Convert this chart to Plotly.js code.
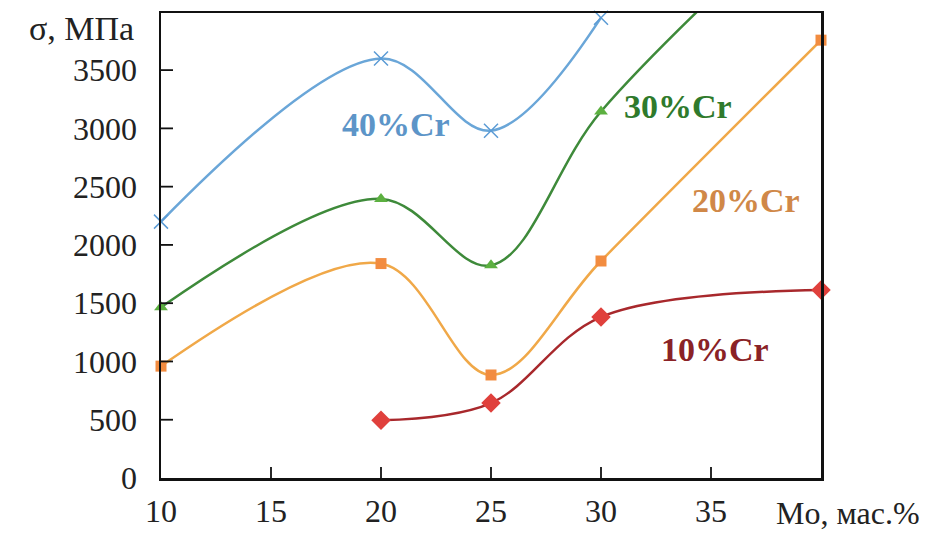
<!DOCTYPE html>
<html>
<head>
<meta charset="utf-8">
<script src="https://cdn.plot.ly/plotly-3.0.1.min.js"></script>
<style>html,body{margin:0;padding:0;background:#fff;}#chart{width:935px;height:534px;}</style>
</head>
<body>
<div id="chart"></div>
<script>
// Mo content, wt.%
const x40 = [10, 20, 25, 30];
const y40 = [2200, 3600, 2980, 3950];
const x30 = [10, 20, 25, 30, 40];
const y30 = [1465, 2395, 1825, 3145, 5000];
const x20 = [10, 20, 25, 30, 40];
const y20 = [960, 1840, 884, 1862, 3757];
const x10 = [20, 25, 30, 40];
const y10 = [495, 643, 1381, 1613];
const xTicks = [10, 15, 20, 25, 30, 35];
const yTicks = [0, 500, 1000, 1500, 2000, 2500, 3000, 3500];
const seriesLabels = ['40%Cr', '30%Cr', '20%Cr', '10%Cr'];
const xRange = [10, 40];
const yRange = [0, 3990];

const F = 'Liberation Serif, Times New Roman, serif';

function tr(x, y, lineColor, markerColor, symbol, size) {
  return {
    x: x, y: y, type: 'scatter', mode: 'lines+markers',
    line: {shape: 'spline', smoothing: 1, color: lineColor, width: 2.5},
    marker: {symbol: symbol, size: size, color: markerColor, line: {color: markerColor, width: symbol.indexOf('x') === 0 ? 1.5 : 0}},
    cliponaxis: false, showlegend: false, hoverinfo: 'skip'
  };
}

const data = [
  tr(x40, y40, '#6aa6d8', '#5b9bd5', 'x-thin-open', 14),
  tr(x30, y30, '#3e8a3a', '#5cb040', 'triangle-up', 12),
  tr(x20, y20, '#f0a848', '#f28c40', 'square', 11),
  tr(x10, y10, '#a8282c', '#e0403c', 'diamond', 15)
];

// inside tick marks built from the tick arrays
const tickShapes = [];
xTicks.slice(1).forEach(function (v) {
  tickShapes.push({type: 'line', xref: 'x', yref: 'y', ysizemode: 'pixel', yanchor: yRange[0],
    x0: v, x1: v, y0: 0, y1: 11, line: {color: '#111', width: 1.8}});
});
const yTickLen = (xRange[1] - xRange[0]) * 12 / 660;
yTicks.slice(1).forEach(function (v) {
  tickShapes.push({type: 'line', xref: 'x', yref: 'y',
    x0: xRange[0], x1: xRange[0] + yTickLen, y0: v, y1: v, line: {color: '#111', width: 1.8}});
});

const layout = {
  width: 935, height: 534,
  margin: {l: 161, r: 114, t: 13, b: 56},
  paper_bgcolor: '#fff', plot_bgcolor: '#fff',
  font: {family: F, size: 32, color: '#222'},
  xaxis: {
    range: xRange, tickmode: 'array', tickvals: xTicks, ticktext: xTicks.map(String),
    ticks: '', showline: true, linecolor: '#111', linewidth: 2.5, mirror: true,
    showgrid: false, zeroline: false, ticklabelstandoff: 3,
    tickfont: {family: F, size: 32, color: '#222'}
  },
  yaxis: {
    range: yRange, tickmode: 'array', tickvals: yTicks, ticktext: yTicks.map(String),
    ticks: '', showline: true, linecolor: '#111', linewidth: 2.5, mirror: true,
    showgrid: false, zeroline: false, ticklabelstandoff: 15,
    tickfont: {family: F, size: 32, color: '#222'}
  },
  shapes: tickShapes,
  annotations: [
    {text: 'σ, МПа', xref: 'paper', yref: 'paper', x: 0, y: 1.0, xanchor: 'right', yanchor: 'middle', xshift: -25, yshift: -15, showarrow: false, font: {family: F, size: 34, color: '#222'}},
    {text: 'Mo, мас.%', xref: 'paper', yref: 'paper', x: 1.0, y: 0, xanchor: 'center', yanchor: 'middle', xshift: 27, yshift: -35, showarrow: false, font: {family: F, size: 32, color: '#222'}},
    {text: '<b>' + seriesLabels[0] + '</b>', xref: 'x', yref: 'y', x: 20.7, y: 3030, showarrow: false, font: {family: F, size: 34, color: '#5d95c8'}},
    {text: '<b>' + seriesLabels[1] + '</b>', xref: 'x', yref: 'y', x: 33.5, y: 3190, showarrow: false, font: {family: F, size: 34, color: '#2f7a2c'}},
    {text: '<b>' + seriesLabels[2] + '</b>', xref: 'x', yref: 'y', x: 36.6, y: 2380, showarrow: false, font: {family: F, size: 34, color: '#d08848'}},
    {text: '<b>' + seriesLabels[3] + '</b>', xref: 'x', yref: 'y', x: 35.2, y: 1100, showarrow: false, font: {family: F, size: 34, color: '#8a2226'}}
  ]
};

Plotly.newPlot('chart', data, layout, {displayModeBar: false, staticPlot: true});
</script>
</body>
</html>
